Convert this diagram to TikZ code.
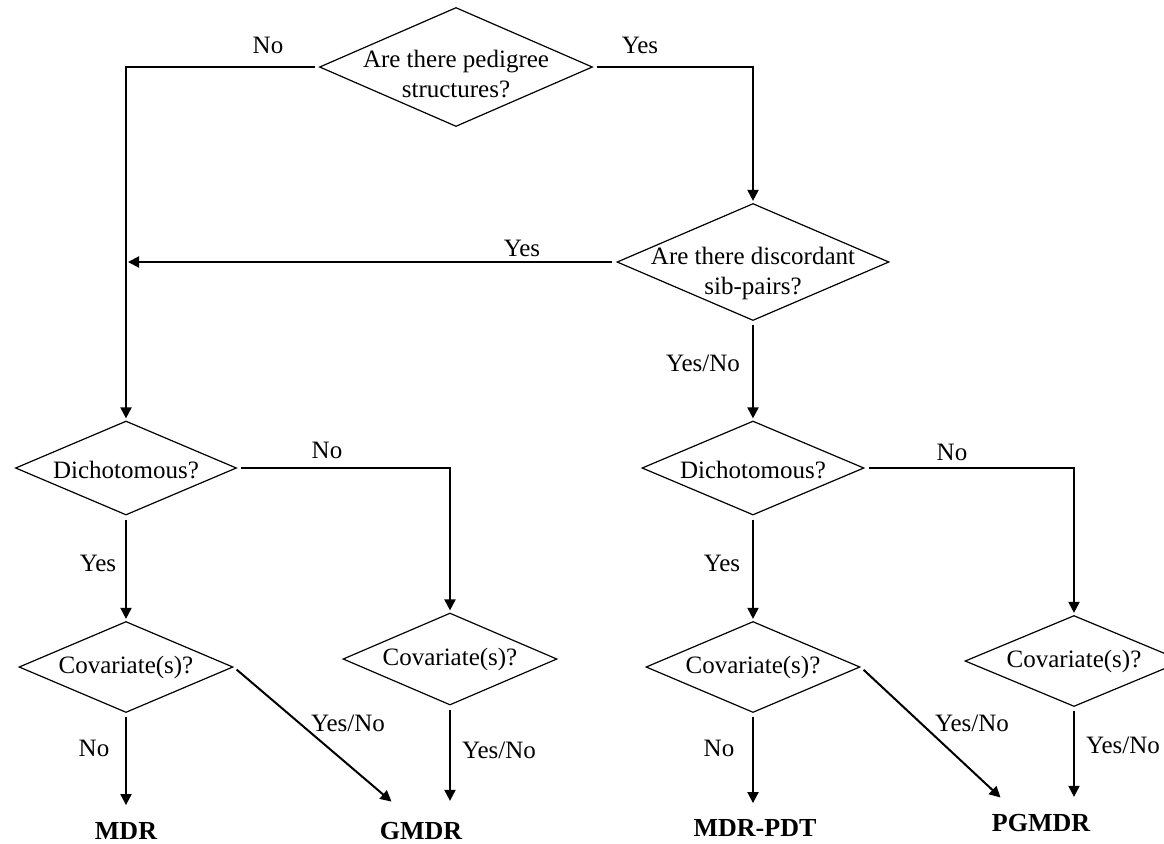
\documentclass[tikz,border=0pt]{standalone}
\usepackage{fontspec}
\setmainfont{Liberation Serif}
\usetikzlibrary{shapes.geometric, arrows.meta}
\tikzset{
  dec/.style={diamond, draw, line width=0.6pt, inner sep=0pt},
  qtext/.style={align=center, font=\fontsize{12.5}{15}\selectfont},
  lab/.style={font=\fontsize{12.5}{15}\selectfont},
  outp/.style={font=\fontsize{13}{15}\selectfont\bfseries, inner sep=0pt},
  conn/.style={->, line width=1pt, shorten <=2pt, shorten >=1pt},
}
\begin{document}
\begin{tikzpicture}[>={Triangle[length=5.5pt,width=5.5pt]}, x=0.5pt, y=-0.5pt]
	\clip (0,0) rectangle (1164,843);
	% questions
	\node[dec, minimum width=136.5pt, minimum height=59.5pt] (ped) at (456,67) {};
	\node[qtext] (pedT) at (456,74) {Are there pedigree\\structures?};
	\node[dec, minimum width=136pt, minimum height=58.5pt] (sib) at (753,262) {};
	\node[qtext] (sibT) at (753,273) {Are there discordant\\sib-pairs?};
	\node[dec, minimum width=110.5pt, minimum height=47pt] (dichL) at (126,468) {};
	\node[qtext] (dichLT) at (126,470) {Dichotomous?};
	\node[dec, minimum width=111pt, minimum height=47pt] (dichR) at (753,468) {};
	\node[qtext] (dichRT) at (753,470) {Dichotomous?};
	\node[dec, minimum width=107pt, minimum height=45.5pt] (covLL) at (126,667) {};
	\node[qtext] (covLLT) at (126,667) {Covariate(s)?};
	\node[dec, minimum width=107pt, minimum height=46pt] (covLM) at (450,659) {};
	\node[qtext] (covLMT) at (450,659) {Covariate(s)?};
	\node[dec, minimum width=107pt, minimum height=45.5pt] (covRL) at (753,667) {};
	\node[qtext] (covRLT) at (753,667) {Covariate(s)?};
	\node[dec, minimum width=109pt, minimum height=45.5pt] (covRR) at (1074,661) {};
	\node[qtext] (covRRT) at (1074,661) {Covariate(s)?};
	% methods
	\node[outp] (mdr) at (126,831) {MDR};
	\node[outp] (gmdr) at (421,831) {GMDR};
	\node[outp] (pdt) at (755,828) {MDR-PDT};
	\node[outp] (pgmdr) at (1041,823) {PGMDR};
	\coordinate (mdrIn) at ([yshift=7.5pt]mdr.north);
	\coordinate (gmdrIn) at ([yshift=9.5pt]gmdr.north);
	\coordinate (pdtIn) at ([yshift=7pt]pdt.north);
	\coordinate (pgIn) at ([yshift=7.5pt]pgmdr.north);
	% connectors
	\draw[conn] (ped.west) -| (dichL.north);
	\draw[conn] (ped.east) -| (sib.north);
	\draw[conn] (sib.west) -- (sib.west -| dichL.north);
	\draw[conn] (sib.south) -- (dichR.north);
	\draw[conn] (dichL.east) -| (covLM.north);
	\draw[conn] (dichL.south) -- (covLL.north);
	\draw[conn] (covLL.south) -- (mdrIn);
	\draw[conn] (covLL.east) -- ([xshift=-14pt]gmdrIn);
	\draw[conn] (covLM.south) -- (covLM.south |- gmdrIn);
	\draw[conn] (dichR.east) -| (covRR.north);
	\draw[conn] (dichR.south) -- (covRL.north);
	\draw[conn] (covRL.south) -- (covRL.south |- pdtIn);
	\draw[conn] (covRL.east) -- ([xshift=-19.5pt]pgIn);
	\draw[conn] (covRR.south) -- (covRR.south |- pgIn);
	% labels
	\node[lab] (l1) at (268,45) {No};
	\node[lab] (l2) at (640,45) {Yes};
	\node[lab] (l3) at (522,248) {Yes};
	\node[lab] (l4) at (703,363) {Yes/No};
	\node[lab] (l5) at (327,450) {No};
	\node[lab] (l6) at (98,563) {Yes};
	\node[lab] (l7) at (94,748) {No};
	\node[lab] (l8) at (348,723) {Yes/No};
	\node[lab] (l9) at (499,750) {Yes/No};
	\node[lab] (l10) at (952,452) {No};
	\node[lab] (l11) at (722,563) {Yes};
	\node[lab] (l12) at (719,748) {No};
	\node[lab] (l13) at (972,723) {Yes/No};
	\node[lab] (l14) at (1123,745) {Yes/No};
\end{tikzpicture}
\end{document}
